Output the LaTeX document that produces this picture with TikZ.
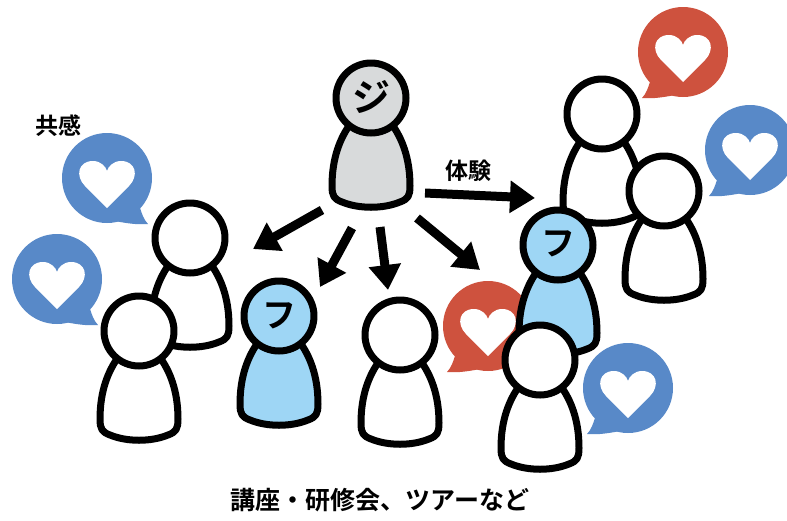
\documentclass[tikz,border=0pt]{standalone}
\usepackage{fontspec}
\newfontfamily\jp{Noto Sans CJK JP}[BoldFont={* Bold}]
\usetikzlibrary{arrows.meta}

\definecolor{bubbleblue}{RGB}{88,137,200}
\definecolor{bubblered}{RGB}{206,82,62}
\definecolor{skyfill}{RGB}{158,214,245}
\definecolor{greyfill}{RGB}{216,218,219}

\tikzset{
  outline/.style={line width=7pt, line join=round, draw=black},
  % a standing figure: bell-shaped body with a round head on top
  pics/person/.style={code={
    \draw[outline, fill=#1] (-20,25) .. controls (-31,40) and (-39,60) .. (-39,88)
      .. controls (-39,98) and (-37,101) .. (-29,104)
      .. controls (-12,111) and (12,111) .. (29,104)
      .. controls (37,101) and (39,98) .. (39,88)
      .. controls (39,60) and (31,40) .. (20,25) -- cycle;
    \draw[outline, fill=#1] (0,0) circle[radius=35pt];
  }},
  % a speech bubble with a heart, tail at the lower left
  pics/bubble/.style={code={
    \fill[#1] (0,0) circle[radius=45pt];
    \fill[#1] (-33,30) .. controls (-35,36) and (-37,42) .. (-41,46)
      .. controls (-30,47) and (-18,45) .. (-8,43) -- cycle;
    \fill[white] (0,30) -- (-22,8) .. controls (-32,-2) and (-29,-17) .. (-14,-17)
      .. controls (-6,-17) and (-1,-11) .. (0,-7)
      .. controls (1,-11) and (6,-17) .. (14,-17)
      .. controls (29,-17) and (32,-2) .. (22,8) -- cycle;
  }},
  bigarrow/.style={line width=9pt, -{Triangle[length=25pt,width=31pt]}},
  label/.style={font=\jp\bfseries\fontsize{23}{23}\selectfont},
  face/.style={font=\jp\bfseries\fontsize{#1}{#1}\selectfont, inner sep=0pt}
}

\begin{document}
\begin{tikzpicture}[x=1pt, y=-1pt]
  \useasboundingbox (0,0) rectangle (787,520);

  % speech bubbles
  \pic[xscale=-1] at (107,178) {bubble=bubbleblue};
  \pic[xscale=-1] at (57,279) {bubble=bubbleblue};
  \pic at (683,52) {bubble=bubblered};
  \pic at (750,150) {bubble=bubbleblue};
  \pic at (488,326) {bubble=bubblered};
  \pic at (628,388) {bubble=bubbleblue};

  % figures, back to front
  \pic at (371,98) {person=greyfill};
  \pic at (190,238) {person=white};
  \pic at (139,331) {person=white};
  \pic at (279,316) {person=skyfill};
  \pic at (400,335) {person=white};
  \pic at (602,114) {person=white};
  \pic at (664,191) {person=white};
  \pic at (558,245) {person=skyfill};
  \pic at (540,360) {person=white};

  % faces
  \node[face=38] (guide) at (371,97) {ジ};
  \node[face=34] (fanA) at (279,316) {フ};
  \node[face=34] (fanB) at (558,244) {フ};

  % arrows from the guide
  \coordinate (s1) at (322,210); \coordinate (e1) at (253,249);
  \coordinate (s2) at (352,228); \coordinate (e2) at (320,287);
  \coordinate (s3) at (380,227); \coordinate (e3) at (388,290);
  \coordinate (s4) at (417,218); \coordinate (e4) at (480,270);
  \coordinate (s5) at (425,193); \coordinate (e5) at (535,198);
  \draw[bigarrow] (s1) -- (e1);
  \draw[bigarrow] (s2) -- (e2);
  \draw[bigarrow] (s3) -- (e3);
  \draw[bigarrow] (s4) -- (e4);
  \draw[bigarrow] (s5) -- (e5);

  % labels
  \node[label] (empathy) at (58,126) {共感};
  \node[label] (experience) at (468,171) {体験};
  \node[font=\jp\bfseries\fontsize{25}{25}\selectfont] (events) at (380,500) {講座・研修会、ツアーなど};
\end{tikzpicture}
\end{document}
